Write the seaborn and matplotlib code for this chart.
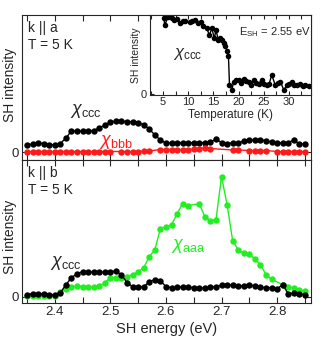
import numpy as np
import pandas as pd
import matplotlib
matplotlib.use("Agg")
import matplotlib.pyplot as plt
from matplotlib.ticker import MultipleLocator
import seaborn as sns

# ---- data (arbitrary units) ----

# top panel, k || a
e_top = np.round(np.arange(2.35, 2.851, 0.01), 2)
chi_ccc_a = [7, 8, 9, 8.5, 7.5, 7, 8.5, 14, 21, 21, 21, 21, 21.5, 24, 27, 30, 31, 31,
             30.5, 30, 29.5, 27, 23, 17, 12, 9, 9, 9, 9.5, 9, 9.5, 9, 9.5, 10, 13, 9.5,
             8.5, 9, 9, 11, 12, 12, 12, 11.5, 10, 9, 9, 9.5, 12, 8, 8]
e_bbb = [2.35, 2.36, 2.37, 2.38, 2.39, 2.40, 2.41, 2.42, 2.43, 2.44, 2.45, 2.46, 2.47,
         2.48, 2.49, 2.50, 2.52, 2.53, 2.54, 2.55, 2.56, 2.57, 2.59, 2.60, 2.61, 2.62,
         2.63, 2.64, 2.65, 2.66, 2.67, 2.68, 2.72, 2.73, 2.75, 2.76, 2.77, 2.78, 2.80,
         2.81, 2.82, 2.83, 2.84, 2.85]
chi_bbb = [0.5, 0.5, 0.5, 0.5, 0.5, 0.5, 0.5, 0.5, 0.5, 0.5, 0.5, 0.5, 0.5,
           0.5, 0.5, 0.5, 0.5, 0.5, 0.5, 0.5, 1, 1, 2.5, 2.5, 2.5, 2.5,
           2.5, 2.5, 3, 3.5, 4.5, 3.5, 2, 2, 1.5, 1.5, 1.5, 1.5, 0.5,
           0.5, 0.5, 0.5, 0.5, 0.5]

# bottom panel, k || b
e_bot = np.round(np.arange(2.35, 2.851, 0.01), 2)
chi_ccc_b = [2, 3, 3, 3, 2, 2, 4, 12, 19, 23, 25, 25, 24.5, 24.5, 24.5, 25, 25.5, 22,
             14, 10, 9.5, 10, 15, 17, 16, 10, 9, 9.5, 9.5, 9.5, 9, 8.5, 8.5, 9.5, 10,
             11.5, 12, 11.5, 11, 11, 11.5, 11, 9.5, 9, 9, 8, 12, 3, 3.5, 3, 2]
e_aaa = [2.35, 2.36, 2.37, 2.38, 2.39, 2.40, 2.41, 2.42, 2.43, 2.44, 2.45, 2.46, 2.47,
         2.48, 2.49, 2.50, 2.51, 2.52, 2.53, 2.54, 2.55, 2.56, 2.57, 2.58, 2.59, 2.60,
         2.61, 2.62, 2.63, 2.64, 2.66, 2.67, 2.68, 2.69, 2.70, 2.71, 2.72, 2.73, 2.74,
         2.75, 2.76, 2.77, 2.78, 2.79, 2.81, 2.82, 2.83, 2.84, 2.85]
chi_aaa = [1, 0.5, 0.5, 0.5, 0.5, 1, 5, 8, 10, 10.5, 10, 10, 9.5,
           10.5, 14, 19, 19, 19, 20, 22, 25, 29, 40, 47, 68, 70,
           72, 83, 93, 91, 93, 80, 76, 77, 120, 92, 56, 47, 43.5,
           43, 37.5, 32, 22, 17.5, 12, 9.5, 8.5, 6.5, 5.5]

# inset, chi_ccc vs temperature at E_SH = 2.55 eV
temp = [5.2, 5.3, 6.0, 6.7, 7.2, 7.7, 8.4, 8.9, 9.3, 10.3, 10.8, 11.3, 12.0, 12.5, 13.0,
        13.7, 14.2, 14.7, 15.2, 15.5, 16.0, 16.4, 16.7, 17.1, 17.4, 17.7, 18.0, 18.2,
        18.7, 19.0, 19.5, 20.0, 20.5, 21.0, 21.5, 22.0, 22.5, 23.0, 23.5, 24.0, 24.6,
        25.1, 25.6, 26.1, 26.6, 27.3, 27.8, 28.3, 29.0, 29.6, 30.1, 30.6, 31.1, 31.6,
        32.3, 32.8, 33.3, 34.0]
chi_T = [75, 68.5, 76, 75, 73, 74, 70, 72, 72, 71.5, 72, 73.5, 70, 71, 67,
         65, 58.5, 65, 55, 63.5, 53.5, 55, 53.5, 50, 47, 42, 37, 8.5,
         3.5, 12, 14, 13.5, 11, 15, 13, 12, 9, 13.5, 11, 10, 13.5,
         10, 8.5, 10, 18.5, 8.5, 11, 12, 3.5, 8.5, 10, 12, 9, 8.5,
         9.5, 8, 8.5, 7.5]

# ---- plotting ----
sns.set_style("ticks")
plt.rcParams["font.family"] = ["Liberation Sans", "DejaVu Sans"]
plt.rcParams["mathtext.fontset"] = "custom"
plt.rcParams["mathtext.rm"] = "Liberation Sans"
plt.rcParams["mathtext.it"] = "Liberation Sans:italic"

red = "#ff1a1a"
green = "#22ee22"
ms = 4.6
lw = 1.0

fig = plt.figure(figsize=(3.32, 3.39), dpi=100)
ax1 = fig.add_axes([0.0663, 0.528, 0.8705, 0.4277])
ax2 = fig.add_axes([0.0663, 0.1062, 0.8705, 0.4218])
axi = fig.add_axes([0.4518, 0.7212, 0.4849, 0.2346])

sns.lineplot(x=e_top, y=chi_ccc_a, ax=ax1, color="black", marker="o", markersize=ms,
             markeredgewidth=0, linewidth=lw)
sns.lineplot(x=e_bbb, y=chi_bbb, ax=ax1, color=red, marker="o", markersize=ms,
             markeredgewidth=0, linewidth=lw)
sns.lineplot(x=e_bot, y=chi_ccc_b, ax=ax2, color="black", marker="o", markersize=ms,
             markeredgewidth=0, linewidth=lw, zorder=3)
sns.lineplot(x=e_aaa, y=chi_aaa, ax=ax2, color=green, marker="o", markersize=ms,
             markeredgewidth=0, linewidth=lw, zorder=2)
sns.lineplot(x=temp, y=chi_T, ax=axi, color="black", marker="o", markersize=4,
             markeredgewidth=0, linewidth=lw)

for ax, ylim, ly in [(ax1, (-8, 137), 0.52), (ax2, (-6.3, 136.7), 0.46)]:
    ax.set_xlim(2.341, 2.861)
    ax.set_ylim(*ylim)
    ax.xaxis.set_major_locator(MultipleLocator(0.1))
    ax.xaxis.set_minor_locator(MultipleLocator(0.05))
    ax.set_yticks([0])
    ax.tick_params(which="both", direction="in", top=True, right=True,
                   labelsize=9.5, width=0.8, pad=2)
    ax.tick_params(which="major", length=4)
    ax.tick_params(which="minor", length=4)
    ax.set_ylabel("SH intensity", fontsize=10)
    ax.yaxis.set_label_coords(-0.018, ly)
    for s in ax.spines.values():
        s.set_linewidth(0.8)

ax1.tick_params(labelbottom=False)
ax1.set_xlabel("")
ax2.set_xticks([2.4, 2.5, 2.6, 2.7, 2.8])
ax2.set_xlabel("SH energy (eV)", fontsize=10.5, labelpad=3)

ax1.text(0.02, 0.96, "k || a", transform=ax1.transAxes, fontsize=10, va="top")
ax1.text(0.02, 0.84, "T = 5 K", transform=ax1.transAxes, fontsize=10, va="top")
ax1.text(2.455, 38, r"$\chi_{\rm ccc}$", fontsize=13, ha="center")
ax1.text(2.51, 7, r"$\chi_{\rm bbb}$", fontsize=13, ha="center", color=red)

ax2.text(0.02, 0.96, "k || b", transform=ax2.transAxes, fontsize=10, va="top")
ax2.text(0.02, 0.84, "T = 5 K", transform=ax2.transAxes, fontsize=10, va="top")
ax2.text(2.42, 31, r"$\chi_{\rm ccc}$", fontsize=13, ha="center")
ax2.text(2.64, 48, r"$\chi_{\rm aaa}$", fontsize=13, ha="center", color=green)

axi.set_xlim(2.4, 34.4)
axi.set_ylim(-1, 78.5)
axi.xaxis.set_major_locator(MultipleLocator(5))
axi.xaxis.set_minor_locator(MultipleLocator(2.5))
axi.set_yticks([0])
axi.tick_params(which="both", direction="in", top=True, labelsize=8, width=0.8,
                length=3, pad=2)
axi.set_xlabel("Temperature (K)", fontsize=8.5, labelpad=1)
axi.set_ylabel("SH intensity", fontsize=7.5, labelpad=0)
axi.text(0.14, 0.47, r"$\chi_{\rm ccc}$", transform=axi.transAxes, fontsize=12)
axi.text(0.55, 0.74, r"E$_{\rm SH}$ = 2.55 eV", transform=axi.transAxes, fontsize=8)
for s in axi.spines.values():
    s.set_linewidth(0.8)

fig.savefig("out.png", dpi=100)
